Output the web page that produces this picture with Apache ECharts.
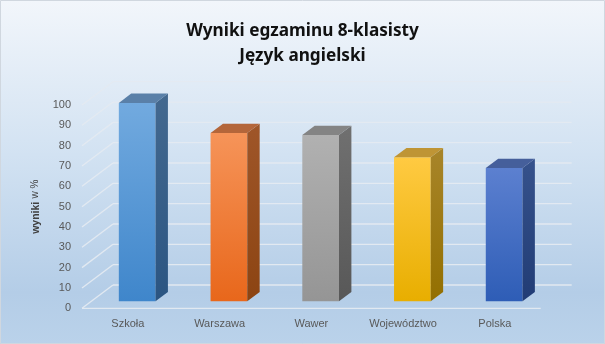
<!DOCTYPE html>
<html><head><meta charset="utf-8">
<script src="https://cdn.jsdelivr.net/npm/echarts@6/dist/echarts.min.js"></script>
<style>html,body{margin:0;padding:0;}#c{width:605px;height:344px;}</style>
</head><body><div id="c"></div>
<script>
var categories = ['Szkoła', 'Warszawa', 'Wawer', 'Województwo', 'Polska'];
var values = [97.6, 82.8, 81.8, 70.8, 65.6];
var yTicks = [0, 10, 20, 30, 40, 50, 60, 70, 80, 90, 100];

// styles
var palette = [
  {front: ['#72aadf', '#3f86cb'], side: ['#44698f', '#2b5582'], top: '#5a80a8'},
  {front: ['#f69459', '#e8671b'], side: ['#9f5629', '#8c4412'], top: '#b4663a'},
  {front: ['#b1b1b1', '#959595'], side: ['#707070', '#585858'], top: '#848484'},
  {front: ['#ffca42', '#e8ae00'], side: ['#a8852a', '#936f00'], top: '#bf9535'},
  {front: ['#5c80d0', '#2e5db6'], side: ['#36528c', '#213c75'], top: '#455f9b'}
];
var DEPTH = [31, -23.3];
var F0 = 0.3, F1 = 0.7, BARW = 0.4;

function grad(c) {
  return new echarts.graphic.LinearGradient(0, 0, 0, 1, [{offset: 0, color: c[0]}, {offset: 1, color: c[1]}]);
}

var chart = echarts.init(document.getElementById('c'));
chart.setOption({
  backgroundColor: new echarts.graphic.LinearGradient(0, 0, 0, 1, [
    {offset: 0, color: '#f2f6fb'}, {offset: 0.45, color: '#d2e2f2'},
    {offset: 0.85, color: '#b4cde7'}, {offset: 1, color: '#bad2ea'}]),
  animation: false,
  title: {
    text: 'Wyniki egzaminu 8-klasisty\nJęzyk angielski',
    left: 'center', top: 14,
    textStyle: {fontFamily: 'Noto Sans', fontWeight: 'bold', fontSize: 17.2, lineHeight: 25, color: '#111'}
  },
  graphic: [{type: 'rect', shape: {x: 0.5, y: 0.5, width: 604, height: 343}, style: {fill: 'none', stroke: '#d0d7df', lineWidth: 1}, z: 100}],
  grid: {left: 82, right: 64.3, top: 105, bottom: 35.7},
  xAxis: {
    type: 'category', data: categories,
    axisLine: {show: false}, axisTick: {show: false},
    axisLabel: {color: '#595959', fontFamily: 'Liberation Sans', fontSize: 11, margin: 10}
  },
  yAxis: {
    type: 'value', min: 0, max: 100, interval: 10,
    axisLine: {show: false}, axisTick: {show: false}, splitLine: {show: false},
    axisLabel: {color: '#595959', fontFamily: 'Liberation Sans', fontSize: 11, margin: 11},
    name: '{b|wyniki} {n|w %}', nameLocation: 'middle', nameRotate: 90, nameGap: 40,
    nameTextStyle: {rich: {
      b: {fontFamily: 'Liberation Sans', fontWeight: 'bold', fontSize: 10.5, color: '#404040'},
      n: {fontFamily: 'Liberation Sans', fontSize: 10, color: '#404040'}
    }}
  },
  series: [{
    type: 'custom', clip: false, z: 1, silent: true,
    data: yTicks.map(function (t) { return [0, t]; }),
    renderItem: function (params, api) {
      var cs = params.coordSys;
      var y = api.coord([0, api.value(1)])[1];
      var l = cs.x, r = cs.x + cs.width;
      var st = {stroke: 'rgba(228,234,241,0.95)', lineWidth: 1.3};
      var ch = [
        {type: 'line', shape: {x1: l, y1: y, x2: l + DEPTH[0], y2: y + DEPTH[1]}, style: st},
        {type: 'line', shape: {x1: l + DEPTH[0], y1: y + DEPTH[1], x2: r + DEPTH[0], y2: y + DEPTH[1]}, style: st}
      ];
      if (api.value(1) === 0) ch.push({type: 'line', shape: {x1: l, y1: y, x2: r, y2: y}, style: st});
      return {type: 'group', children: ch};
    }
  }, {
    type: 'custom', clip: false, z: 2, silent: true,
    data: values.map(function (v, i) { return [i, v]; }),
    renderItem: function (params, api) {
      var i = api.value(0);
      var topP = api.coord([i, api.value(1)]);
      var baseP = api.coord([i, 0]);
      var band = api.size([1, 0])[0];
      var w = band * BARW;
      var fx = topP[0] - w / 2 + DEPTH[0] * F0;
      var fyT = topP[1] + DEPTH[1] * F0;
      var fyB = baseP[1] + DEPTH[1] * F0;
      var dx = DEPTH[0] * (F1 - F0), dy = DEPTH[1] * (F1 - F0);
      var p = palette[params.dataIndex % palette.length];
      return {type: 'group', children: [
        {type: 'polygon', shape: {points: [[fx, fyT], [fx + w, fyT], [fx + w, fyB], [fx, fyB]]}, style: {fill: grad(p.front)}},
        {type: 'polygon', shape: {points: [[fx + w, fyT], [fx + w + dx, fyT + dy], [fx + w + dx, fyB + dy], [fx + w, fyB]]}, style: {fill: grad(p.side)}},
        {type: 'polygon', shape: {points: [[fx, fyT], [fx + dx, fyT + dy], [fx + w + dx, fyT + dy], [fx + w, fyT]]}, style: {fill: p.top}}
      ]};
    }
  }]
});
</script></body></html>
